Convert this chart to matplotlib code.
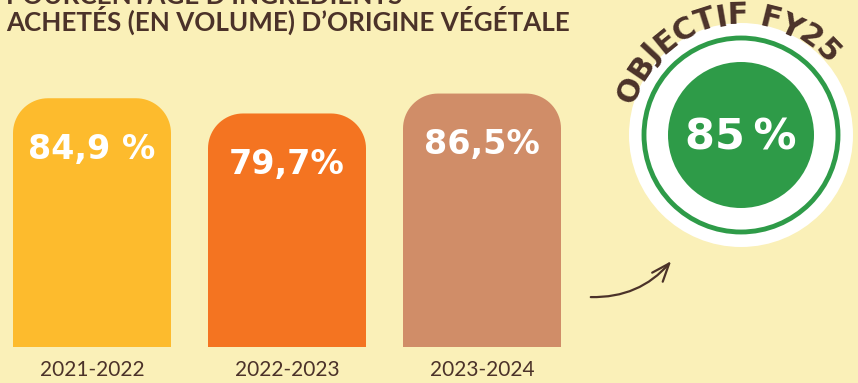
import numpy as np
import matplotlib.pyplot as plt
from matplotlib.path import Path
from matplotlib.patches import PathPatch, Circle, FancyArrowPatch
from matplotlib.font_manager import FontProperties
from matplotlib.textpath import text_to_path

# data
periods = ["2021-2022", "2022-2023", "2023-2024"]
shares = [84.9, 79.7, 86.5]
share_labels = ["84,9 %", "79,7%", "86,5%"]
bar_colors = ["#FDBB2D", "#F47421", "#D08D68"]
target_value = 85
target_label = "OBJECTIF FY25"

BG = "#FAF0B8"
BROWN = "#4B3229"
GREEN = "#2E9B48"

W, H, DPI = 858, 383, 100
fig = plt.figure(figsize=(W / DPI, H / DPI), dpi=DPI, facecolor=BG)

# bar axes: x in category units, y in percent
px_per_cat = 195.0
px_per_pct = 2.93
x0_px, y0_px = 92.0, 36.0
ax = fig.add_axes([0, 0, 1, 1])
ax.set_xlim(-x0_px / px_per_cat, (W - x0_px) / px_per_cat)
ax.set_ylim(-y0_px / px_per_pct, (H - y0_px) / px_per_pct)
ax.axis("off")
ax.patch.set_alpha(0)

x = np.arange(len(periods))
bars = ax.bar(x, shares, width=158 / px_per_cat, color=bar_colors)


def rounded_top(rect, r_px=35):
    # replace the plain rectangle with one whose top corners are round
    x0, w, h = rect.get_x(), rect.get_width(), rect.get_height()
    rx, ry = r_px / px_per_cat, r_px / px_per_pct
    t = np.linspace(0, np.pi / 2, 20)
    right = np.column_stack([x0 + w - rx + rx * np.cos(t), h - ry + ry * np.sin(t)])
    left = np.column_stack([x0 + rx - rx * np.sin(t), h - ry + ry * np.cos(t)])
    pts = np.vstack([[x0 + w, 0], right, left, [x0, 0], [x0 + w, 0]])
    return Path(pts)


for rect, col in zip(bars, bar_colors):
    rect.set_visible(False)
    ax.add_patch(PathPatch(rounded_top(rect), facecolor=col, edgecolor="none"))

heavy = ["DejaVu Sans"]
for xi, v, lab in zip(x, shares, share_labels):
    ax.text(xi, v - 17.5, lab, ha="center", va="center", color="white",
            fontsize=24, fontweight="bold", family=heavy)
    ax.text(xi, -8.0, periods[xi], ha="center", va="center", color=BROWN,
            fontsize=15, family=["Lato", "DejaVu Sans"])

# title (first line runs off the top edge)
title_font = dict(color=BROWN, fontsize=18.7, fontweight="bold",
                  family=["Lato", "DejaVu Sans"])
fig.text(6 / W, 1 - 4 / H, "POURCENTAGE D’INGRÉDIENTS", ha="left",
         va="baseline", **title_font)
fig.text(6 / W, 1 - 31 / H, "ACHETÉS (EN VOLUME) D’ORIGINE VÉGÉTALE",
         ha="left", va="baseline", **title_font)

# overlay in pixel coordinates for the target badge and arrow
ov = fig.add_axes([0, 0, 1, 1])
ov.set_xlim(0, W)
ov.set_ylim(H, 0)
ov.axis("off")
ov.patch.set_alpha(0)

cx, cy = 741, 135
ov.add_patch(Circle((cx, cy), 112, facecolor="white", edgecolor="none"))
ov.add_patch(Circle((cx, cy), 97, facecolor="none", edgecolor=GREEN, linewidth=3.5))
ov.add_patch(Circle((cx, cy), 73, facecolor=GREEN, edgecolor="none"))
ov.text(cx, cy + 2, f"{target_value}\u2009%", ha="center", va="center", color="white",
        fontsize=31, fontweight="bold", family=heavy)

# curved label along the top of the badge
fp = FontProperties(family=heavy, weight="bold", size=22)
widths = [text_to_path.get_text_width_height_descent(c, fp, ismath=False)[0]
          for c in target_label]
centers = np.cumsum(widths) - np.array(widths) / 2
start, end = 158.0, 44.0
angles = start + (centers - centers[0]) / (centers[-1] - centers[0]) * (end - start)
R = 111
for ch, a in zip(target_label, angles):
    th = np.radians(a)
    ov.text(cx + R * np.cos(th), cy - R * np.sin(th), ch, rotation=a - 90,
            rotation_mode="anchor", ha="center", va="baseline", color=BROWN,
            fontproperties=fp)

ov.add_patch(FancyArrowPatch((588, 297), (673, 259),
                             connectionstyle="arc3,rad=0.25",
                             arrowstyle="->,head_length=13,head_width=5",
                             color=BROWN, linewidth=1.6))

fig.savefig("out.png", dpi=DPI, facecolor=BG)
